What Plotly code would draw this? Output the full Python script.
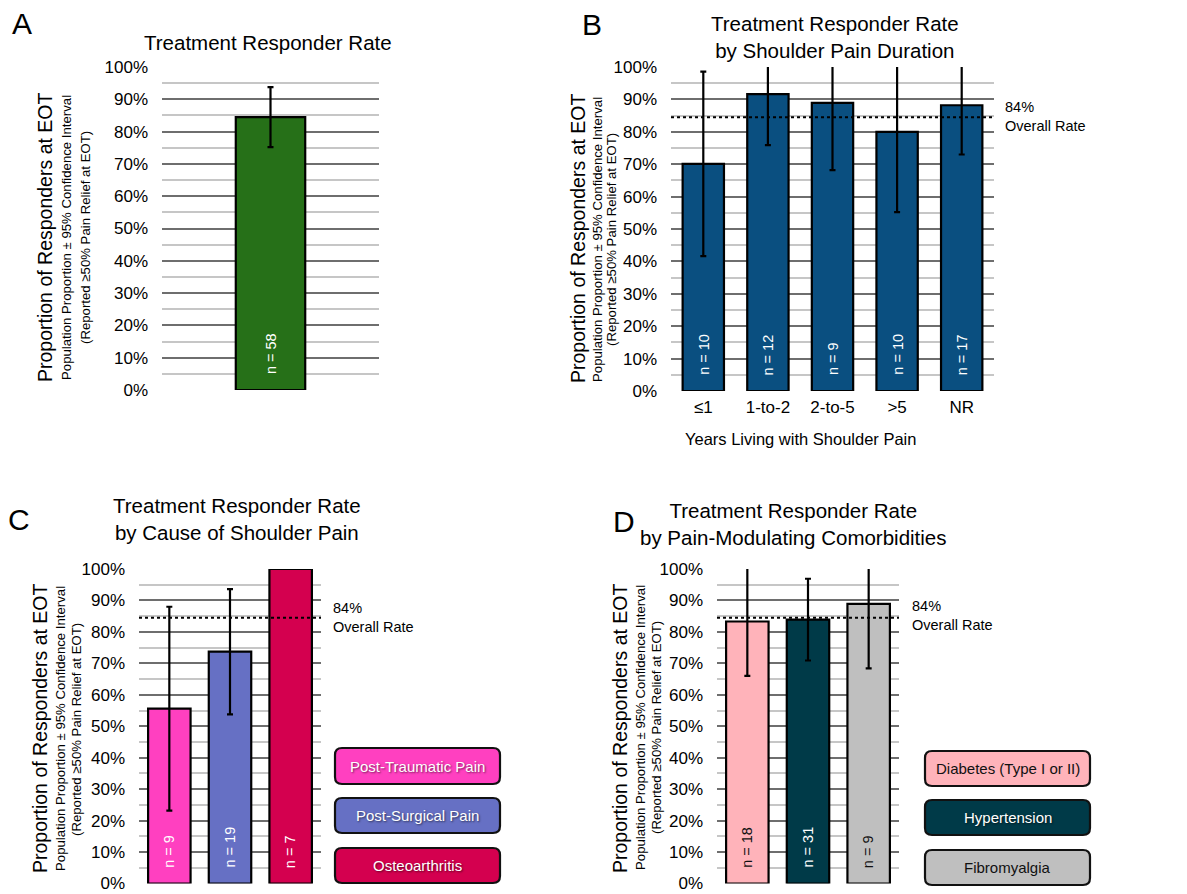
import plotly.graph_objects as go

W, H = 1187, 894

# ---------------- data ----------------
a_cats = ["All"]
a_vals = [84.5]
a_err = [9.3]
a_n = ["n = 58"]

b_cats = ["≤1", "1-to-2", "2-to-5", ">5", "NR"]
b_vals = [70.1, 91.6, 88.9, 80.0, 88.2]
b_err = [28.5, 15.7, 20.7, 24.8, 15.2]
b_n = ["n = 10", "n = 12", "n = 9", "n = 10", "n = 17"]

c_cats = ["Post-Traumatic Pain", "Post-Surgical Pain", "Osteoarthritis"]
c_vals = [55.6, 73.7, 100.0]
c_err = [32.4, 19.9, 0.0]
c_n = ["n = 9", "n = 19", "n = 7"]
c_colors = ["#ff40c0", "#6670c4", "#d4004f"]
c_textcolors = ["white", "white", "white"]

d_cats = ["Diabetes (Type I or II)", "Hypertension", "Fibromyalgia"]
d_vals = [83.3, 83.9, 88.9]
d_err = [17.3, 13.0, 20.5]
d_n = ["n = 18", "n = 31", "n = 9"]
d_colors = ["#ffb3ba", "#003a48", "#bfbfbf"]
d_textcolors = ["#111111", "white", "#111111"]

overall_rate = 84.5
overall_label = ["84%", "Overall Rate"]

FONT = "Liberation Sans, Arial, sans-serif"


def px(x):
    return x / W


def py(y):
    return 1 - y / H


fig = go.Figure()

panels = [
    # suffix, cats, vals, err, ntext, colors, ntext colors, width, xdom(px), ydom(px)
    ("", a_cats, a_vals, a_err, a_n, ["#267018"], ["white"], 0.32, (162, 379), (67, 390)),
    ("2", b_cats, b_vals, b_err, b_n, ["#0a4f80"] * 5, ["white"] * 5, 0.64, (671, 994), (67, 391)),
    ("3", c_cats, c_vals, c_err, c_n, c_colors, c_textcolors, 0.70, (139, 321), (569, 883.5)),
    ("4", d_cats, d_vals, d_err, d_n, d_colors, d_textcolors, 0.70, (717, 899), (569, 883.5)),
]

annotations = []
shapes = []
layout_axes = {}

for sfx, cats, vals, err, ntext, colors, ncols, bw, xd, yd in panels:
    xa = "x" + sfx
    ya = "y" + sfx
    fig.add_trace(go.Bar(
        x=cats, y=vals,
        xaxis=xa, yaxis=ya,
        width=bw,
        marker=dict(color=colors if len(colors) == len(cats) else colors[0],
                    line=dict(color="black", width=2.2)),
        error_y=dict(type="data", array=err, visible=True,
                     color="black", thickness=2.2, width=3),
        showlegend=False,
        hoverinfo="skip",
    ))
    layout_axes["xaxis" + sfx] = dict(
        domain=[px(xd[0]), px(xd[1])], anchor=ya,
        showticklabels=(sfx == "2"), showgrid=False, zeroline=False,
        showline=False, ticks="", type="category",
        tickfont=dict(size=17, color="black", family=FONT),
        ticklabelstandoff=4,
    )
    layout_axes["yaxis" + sfx] = dict(
        domain=[py(yd[1]), py(yd[0])], anchor=xa,
        range=[0, 100], dtick=10, ticksuffix="%",
        showgrid=True, gridcolor="#6e6e6e", gridwidth=2.2,
        minor=dict(dtick=5, showgrid=True, gridcolor="#c6c6c6", gridwidth=2),
        zeroline=False, showline=False, ticks="",
        tickfont=dict(size=17, color="black", family=FONT),
        ticklabelstandoff=13, ticklabeloverflow="allow",
    )
    for c, t, tc in zip(cats, ntext, ncols):
        annotations.append(dict(
            x=c, y=4.3, xref=xa, yref=ya, text=t, showarrow=False,
            textangle=-90, xanchor="center", yanchor="bottom",
            font=dict(size=14.5, color=tc, family=FONT),
        ))
    if sfx != "":
        shapes.append(dict(
            type="line", xref=xa + " domain", yref=ya,
            x0=0, x1=1, y0=overall_rate, y1=overall_rate,
            line=dict(color="black", width=2, dash="dot"), layer="above",
        ))

for (lx, ly1, ly2) in [(1003, 107, 126), (331, 608, 627), (910, 606, 625)]:
    for t, ly in zip(overall_label, (ly1, ly2)):
        annotations.append(dict(x=px(lx), y=py(ly), xref="paper", yref="paper",
                                text=t, showarrow=False,
                                xanchor="left", yanchor="middle",
                                font=dict(size=14.5, color="black", family=FONT)))

titles = [
    (268, 42, "Treatment Responder Rate"),
    (835, 37.5, "Treatment Responder Rate<br>by Shoulder Pain Duration"),
    (237, 519, "Treatment Responder Rate<br>by Cause of Shoulder Pain"),
    (793, 524, "Treatment Responder Rate<br>by Pain-Modulating Comorbidities"),
]
for x, y, t in titles:
    annotations.append(dict(x=px(x), y=py(y), xref="paper", yref="paper",
                            text=t, showarrow=False, xanchor="center",
                            yanchor="middle",
                            font=dict(size=20.5, color="black", family=FONT)))

for x, y, t in [(22, 24, "A"), (592, 25, "B"), (19, 519, "C"), (624, 521, "D")]:
    annotations.append(dict(x=px(x), y=py(y), xref="paper", yref="paper",
                            text=t, showarrow=False, xanchor="center",
                            yanchor="middle",
                            font=dict(size=30, color="black", family=FONT)))

ytitle_main = "Proportion of Responders at EOT"
ytitle_sub1 = "Population Proportion ± 95% Confidence Interval"
ytitle_sub2 = "(Reported ≥50% Pain Relief at EOT)"
for (x0, x1, x2, yc) in [(45, 66, 85, 238), (578, 597, 611, 239),
                         (40, 60, 76, 729), (620, 640, 656, 728)]:
    for xx, t, s in [(x0, ytitle_main, 19.5), (x1, ytitle_sub1, 13.2), (x2, ytitle_sub2, 13.2)]:
        annotations.append(dict(x=px(xx), y=py(yc), xref="paper", yref="paper",
                                text=t, showarrow=False, textangle=-90,
                                xanchor="center", yanchor="middle",
                                font=dict(size=s, color="black", family=FONT)))

annotations.append(dict(x=px(800), y=py(439), xref="paper", yref="paper",
                        text="Years Living with Shoulder Pain", showarrow=False,
                        xanchor="center", yanchor="middle",
                        font=dict(size=16.5, color="black", family=FONT)))


def rrect(x0, y0, x1, y1, r=7):
    rx = r / W
    ry = r / H
    X0, X1 = px(x0), px(x1)
    Y0, Y1 = py(y1), py(y0)
    return (f"M {X0+rx},{Y1} L {X1-rx},{Y1} Q {X1},{Y1} {X1},{Y1-ry} "
            f"L {X1},{Y0+ry} Q {X1},{Y0} {X1-rx},{Y0} L {X0+rx},{Y0} "
            f"Q {X0},{Y0} {X0},{Y0+ry} L {X0},{Y1-ry} Q {X0},{Y1} {X0+rx},{Y1} Z")


legend_sets = [
    (335, 500, [(748, 784), (798, 833), (848, 883)], c_cats, c_colors, c_textcolors),
    (925, 1090, [(751, 786), (800, 835), (850, 885)], d_cats, d_colors, d_textcolors),
]
for lx0, lx1, rows, cats, cols, tcols in legend_sets:
    for (ry0, ry1), cat, col, tc in zip(rows, cats, cols, tcols):
        shapes.append(dict(type="path", xref="paper", yref="paper",
                           path=rrect(lx0, ry0, lx1, ry1),
                           fillcolor=col, line=dict(color="#111111", width=2.2),
                           layer="above"))
        annotations.append(dict(x=px((lx0 + lx1) / 2), y=py((ry0 + ry1) / 2),
                                xref="paper", yref="paper", text=cat,
                                showarrow=False, xanchor="center", yanchor="middle",
                                font=dict(size=15, color=tc, family=FONT,
                                          shadow=("1px 1px 2px rgba(0,0,0,0.55)" if tc == "white" else "none"))))

fig.update_layout(
    width=W, height=H,
    margin=dict(l=0, r=0, t=0, b=0, autoexpand=False),
    paper_bgcolor="white", plot_bgcolor="white",
    font=dict(family=FONT, color="black"),
    annotations=annotations, shapes=shapes,
    **layout_axes,
)

fig.write_html("out.html",
               config={"displayModeBar": False},
               post_script="document.body.style.margin='0px';document.body.style.overflow='hidden';")
